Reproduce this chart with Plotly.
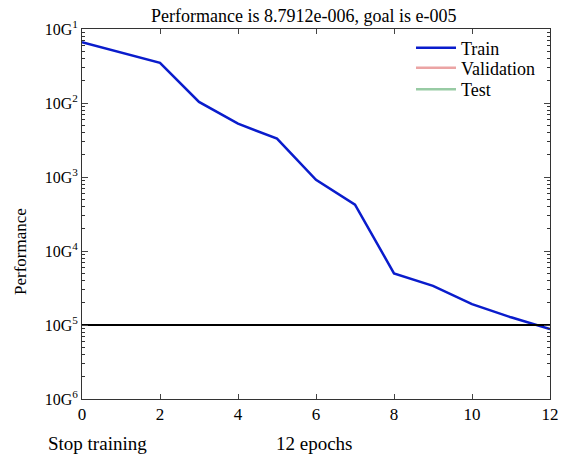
import plotly.graph_objects as go

# ---- data ----
epochs = [0, 1, 2, 3, 4, 5, 6, 7, 8, 9, 10, 11, 12]
train_perf = [0.0661, 0.0483, 0.0349, 0.01033, 0.00526, 0.00330, 0.000916,
              0.000424, 4.99e-5, 3.38e-5, 1.91e-5, 1.27e-5, 8.7912e-6]
val_epochs = [None]
val_perf = [None]
test_epochs = [None]
test_perf = [None]
goal = 1e-5
goal_x = [0, 12]
x_ticks = [0, 2, 4, 6, 8, 10, 12]
y_tick_vals = [1e-1, 1e-2, 1e-3, 1e-4, 1e-5, 1e-6]
y_tick_text = ["10G<sup>1</sup>", "10G<sup>2</sup>", "10G<sup>3</sup>",
               "10G<sup>4</sup>", "10G<sup>5</sup>", "10G<sup>6</sup>"]
minor_vals = [m * 10.0 ** e for e in range(-6, -1) for m in range(2, 10)]

title_text = "Performance is 8.7912e-006, goal is e-005"
ylabel = "Performance"
bottom_left = "Stop training"
bottom_mid = "12 epochs"

FONT = "Liberation Serif, Times New Roman, serif"
L, T, W, H = 82, 29, 468, 370


def px_x(p):
    return (p - L) / W


def px_y(p):
    return (T + H - p) / H


fig = go.Figure()
fig.add_trace(go.Scatter(x=epochs, y=train_perf, mode="lines", name="Train",
                         line=dict(color="#0a1ccc", width=2.5), legend="legend"))
fig.add_trace(go.Scatter(x=val_epochs, y=val_perf, mode="lines", name="Validation",
                         line=dict(color="#eba4a4", width=2.5), legend="legend2"))
fig.add_trace(go.Scatter(x=test_epochs, y=test_perf, mode="lines", name="Test",
                         line=dict(color="#98cba4", width=2.5), legend="legend3"))
fig.add_trace(go.Scatter(x=goal_x, y=[goal, goal], mode="lines", showlegend=False,
                         line=dict(color="black", width=2)))

leg_common = dict(xanchor="left", yanchor="top", bgcolor="rgba(255,255,255,0)",
                  font=dict(size=18), itemwidth=40)

fig.update_layout(
    width=563, height=455,
    margin=dict(l=L, r=563 - L - W, t=T, b=455 - T - H, autoexpand=False),
    paper_bgcolor="white", plot_bgcolor="white",
    font=dict(family=FONT, size=16, color="black"),
    showlegend=True,
    legend=dict(x=px_x(411), y=px_y(29.5), **leg_common),
    legend2=dict(x=px_x(411), y=px_y(49.5), **leg_common),
    legend3=dict(x=px_x(411), y=px_y(71), **leg_common),
    xaxis=dict(range=[0, 12], tickvals=x_ticks, ticks="inside", ticklen=5,
               showline=True, linecolor="#333", linewidth=1, mirror="allticks",
               showgrid=False, zeroline=False, tickfont=dict(size=17),
               automargin=False),
    yaxis=dict(type="log", range=[-6, -1], tickvals=y_tick_vals, ticktext=y_tick_text,
               ticks="inside", ticklen=6, showline=True, linecolor="#333", linewidth=1,
               mirror="allticks", showgrid=False, zeroline=False, tickfont=dict(size=16),
               automargin=False,
               minor=dict(tickvals=minor_vals, ticks="inside", ticklen=3,
                          tickcolor="#333", showgrid=False)),
    annotations=[
        dict(text=title_text, xref="paper", yref="paper", x=px_x(303), y=1.0,
             xanchor="center", yanchor="bottom", yshift=1, showarrow=False,
             font=dict(size=18)),
        dict(text=ylabel, xref="paper", yref="paper", x=px_x(20),
             y=px_y(252), textangle=-90, xanchor="center", yanchor="middle",
             showarrow=False, font=dict(size=17)),
        dict(text=bottom_left, xref="paper", yref="paper", x=px_x(46),
             y=px_y(443), xanchor="left", yanchor="middle",
             showarrow=False, font=dict(size=19)),
        dict(text=bottom_mid, xref="paper", yref="paper", x=px_x(274),
             y=px_y(443), xanchor="left", yanchor="middle",
             showarrow=False, font=dict(size=19)),
    ],
)

fig.write_html("out.html", config={"displayModeBar": False},
               post_script="document.body.style.margin='0px';document.body.style.padding='0px';")
